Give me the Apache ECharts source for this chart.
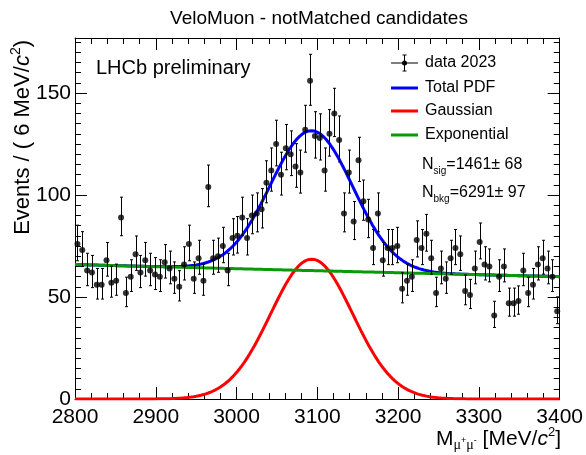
<!DOCTYPE html>
<html><head><meta charset="utf-8">
<script src="https://cdn.jsdelivr.net/npm/echarts@6/dist/echarts.min.js"></script>
<style>html,body{margin:0;padding:0;background:#fff}#c{width:586px;height:455px}</style>
</head><body><div id="c"></div>
<script>
// ---- data (6 MeV bins from 2800 to 3400) ----
const binLow = 2800;
const binWidth = 6;
const counts = [
  76, 73, 63, 62, 56, 56, 68, 57, 58, 89,
  52, 60, 71, 62, 68, 63, 61, 60, 67, 64,
  59, 55, 66, 76, 59, 69, 58, 104, 69, 70,
  75, 63, 79, 80, 89, 79, 90, 91, 93, 106,
  112, 125, 110, 123, 120, 114, 111, 132, 156, 129,
  128, 112, 130, 140, 127, 91, 111, 87, 117, 97,
  88, 74, 91, 68, 74, 74, 75, 54, 58, 60,
  78, 74, 81, 69, 52, 64, 59, 69, 74, 71,
  53, 51, 64, 77, 66, 65, 41, 60, 65, 47,
  47, 48, 63, 52, 56, 66, 69, 64, 60, 43
];
const xTickLabels = [2800, 2900, 3000, 3100, 3200, 3300, 3400];
const yTickLabels = [0, 50, 100, 150];
// fit result shown on the plot
const nSig = 1461, nSigErr = 68;
const nBkg = 6291, nBkgErr = 97;
const gaussMean = 3093, gaussSigma = 51;
const expSlope = -1.57e-4;
const legendNames = ['data 2023', 'Total PDF', 'Gaussian', 'Exponential'];
const titleText = 'VeloMuon - notMatched candidates';

// ---- build series ----
const xMin = xTickLabels[0], xMax = xTickLabels[xTickLabels.length - 1];
const dataPts = counts.map((n, i) => [binLow + binWidth * (i + 0.5), n]);
const errPts = counts.map((n, i) => {
  const s = Math.sqrt(n + 0.25);
  return [binLow + binWidth * (i + 0.5), n - (s - 0.5), n + (s + 0.5)];
});
function gaussAt(x) {
  return nSig * binWidth / (gaussSigma * Math.sqrt(2 * Math.PI)) *
    Math.exp(-0.5 * Math.pow((x - gaussMean) / gaussSigma, 2));
}
function expAt(x) {
  const norm = expSlope / (Math.exp(expSlope * (xMax - xMin)) - 1);
  return nBkg * binWidth * norm * Math.exp(expSlope * (x - xMin));
}
const gaussCurve = [], expCurve = [], totalCurve = [];
for (let x = xMin; x <= xMax; x += 1) {
  gaussCurve.push([x, gaussAt(x)]);
  expCurve.push([x, expAt(x)]);
  totalCurve.push([x, gaussAt(x) + expAt(x)]);
}

const FONT = 'Liberation Sans, Arial, Helvetica, sans-serif';
const chart = echarts.init(document.getElementById('c'), null, {renderer: 'canvas'});

const axisCommon = {
  axisLine: {show: true, onZero: false, lineStyle: {color: '#000', width: 1}},
  axisTick: {show: true, inside: true, length: 12, lineStyle: {color: '#000', width: 1}},
  splitLine: {show: false},
  minorSplitLine: {show: false}
};

const richBase = (fs) => ({
  a: {fontSize: fs, lineHeight: fs + 6, fontFamily: FONT, color: '#000', verticalAlign: 'middle'},
  i: {fontSize: fs, lineHeight: fs + 6, fontFamily: FONT, color: '#000', fontStyle: 'italic', verticalAlign: 'middle'},
  s: {fontSize: Math.round(fs * 0.62), lineHeight: Math.round(fs * 0.62), fontFamily: FONT, color: '#000', verticalAlign: 'bottom'},
  m: {fontSize: Math.round(fs * 0.66), lineHeight: Math.round(fs * 0.66), fontFamily: 'Liberation Serif, serif', color: '#000', verticalAlign: 'bottom'},
  p: {fontSize: Math.round(fs * 0.45), lineHeight: Math.round(fs * 0.45), fontFamily: FONT, color: '#000', verticalAlign: 'bottom', padding: [0, 0, Math.round(fs * 0.33), 0]},
  u: {fontSize: Math.round(fs * 0.62), lineHeight: Math.round(fs * 0.62), fontFamily: FONT, color: '#000', verticalAlign: 'top'}
});

const lgX = 391, lgTextX = 425, lgRows = [63, 88, 111, 135];
const graphics = [
  {type: 'text', x: 319, y: 19, style: {text: titleText, font: '19px ' + FONT, fill: '#000', align: 'center', verticalAlign: 'middle'}, z: 10},
  {type: 'text', x: 96, y: 68, style: {text: 'LHCb preliminary', font: '20px ' + FONT, fill: '#000', verticalAlign: 'middle'}, z: 10},
  // y axis title
  {type: 'text', x: 23, y: 40, rotation: Math.PI / 2,
   style: {text: '{a|Events / ( 6 MeV/}{i|c}{u|2}{a|)}', align: 'right', verticalAlign: 'middle', rich: richBase(22)}, z: 10},
  // x axis title
  {type: 'text', x: 561, y: 439,
   style: {text: '{a|M}{m|μ}{p|+}{m|μ}{p|-}{a| [MeV/}{i|c}{u|2}{a|]}', align: 'right', verticalAlign: 'middle', rich: richBase(21)}, z: 10},
  // legend: data
  {type: 'line', shape: {x1: lgX, y1: lgRows[0], x2: lgX + 27, y2: lgRows[0]}, style: {stroke: '#000', lineWidth: 1}, z: 10},
  {type: 'line', shape: {x1: lgX + 13.5, y1: lgRows[0] - 8, x2: lgX + 13.5, y2: lgRows[0] + 8}, style: {stroke: '#000', lineWidth: 1}, z: 10},
  {type: 'line', shape: {x1: lgX + 11.5, y1: lgRows[0] - 8, x2: lgX + 15.5, y2: lgRows[0] - 8}, style: {stroke: '#000', lineWidth: 1}, z: 10},
  {type: 'line', shape: {x1: lgX + 11.5, y1: lgRows[0] + 8, x2: lgX + 15.5, y2: lgRows[0] + 8}, style: {stroke: '#000', lineWidth: 1}, z: 10},
  {type: 'circle', shape: {cx: lgX + 13.5, cy: lgRows[0], r: 2.5}, style: {fill: '#000'}, z: 10},
  {type: 'line', shape: {x1: lgX, y1: lgRows[1], x2: lgX + 27, y2: lgRows[1]}, style: {stroke: '#0000ff', lineWidth: 3}, z: 10},
  {type: 'line', shape: {x1: lgX, y1: lgRows[2], x2: lgX + 27, y2: lgRows[2]}, style: {stroke: '#ff0000', lineWidth: 3}, z: 10},
  {type: 'line', shape: {x1: lgX, y1: lgRows[3], x2: lgX + 27, y2: lgRows[3]}, style: {stroke: '#0a990a', lineWidth: 3}, z: 10}
];
legendNames.forEach((nm, k) => {
  graphics.push({type: 'text', x: lgTextX, y: lgRows[k], style: {text: nm, font: '16px ' + FONT, fill: '#000', verticalAlign: 'middle'}, z: 10});
});
graphics.push({type: 'text', x: 422, y: 165, style: {text: '{a|N}{s|sig}{a|=' + nSig + '± ' + nSigErr + '}', verticalAlign: 'middle', rich: richBase(16)}, z: 10});
graphics.push({type: 'text', x: 422, y: 193, style: {text: '{a|N}{s|bkg}{a|=' + nBkg + '± ' + nBkgErr + '}', verticalAlign: 'middle', rich: richBase(16)}, z: 10});

const option = {
  animation: false,
  backgroundColor: '#fff',
  grid: {left: 75, right: 26, top: 38, bottom: 56, containLabel: false},
  xAxis: [
    {type: 'value', position: 'bottom', min: xMin, max: xMax, interval: 100,
      axisLabel: {show: true, color: '#000', fontSize: 21, fontFamily: FONT, margin: 8,
        formatter: v => xTickLabels.includes(v) ? String(v) : ''}},
    {type: 'value', position: 'top', min: xMin, max: xMax, interval: 100,
      axisLabel: {show: false}}
  ],
  yAxis: [
    {type: 'value', position: 'left', min: 0, max: 177, interval: 50,
      axisLabel: {show: true, color: '#000', fontSize: 21, fontFamily: FONT, margin: 4,
        formatter: v => yTickLabels.includes(v) ? String(v) : ''}},
    {type: 'value', position: 'right', min: 0, max: 177, interval: 50, axisLabel: {show: false}}
  ],
  graphic: graphics,
  series: [
    {name: 'Total PDF', type: 'line', data: totalCurve, showSymbol: false, symbol: 'none',
      lineStyle: {color: '#0000ff', width: 3}, z: 3, silent: true},
    {name: 'Gaussian', type: 'line', data: gaussCurve, showSymbol: false, symbol: 'none',
      lineStyle: {color: '#ff0000', width: 3}, z: 3, silent: true},
    {name: 'Exponential', type: 'line', data: expCurve, showSymbol: false, symbol: 'none',
      lineStyle: {color: '#0a990a', width: 3}, z: 4, silent: true},
    {name: 'data 2023 errors', type: 'custom', data: errPts, z: 5, silent: true,
      renderItem: function (params, api) {
        const x = api.value(0);
        const lo = api.coord([x, api.value(1)]);
        const hi = api.coord([x, api.value(2)]);
        const px = Math.round(lo[0]) + 0.5;
        return {type: 'group', children: [
          {type: 'line', shape: {x1: px, y1: lo[1], x2: px, y2: hi[1]}, style: {stroke: '#000', lineWidth: 1}},
          {type: 'line', shape: {x1: px - 1.5, y1: lo[1], x2: px + 1.5, y2: lo[1]}, style: {stroke: '#000', lineWidth: 1}},
          {type: 'line', shape: {x1: px - 1.5, y1: hi[1], x2: px + 1.5, y2: hi[1]}, style: {stroke: '#000', lineWidth: 1}}
        ]};
      }},
    {name: 'data 2023', type: 'scatter', data: dataPts, symbol: 'circle', symbolSize: 6,
      itemStyle: {color: '#000'}, z: 6, silent: true}
  ]
};
// apply common axis styling
option.xAxis.forEach(a => {
  a.axisLine = axisCommon.axisLine; a.axisTick = axisCommon.axisTick;
  a.minorTick = {show: true, splitNumber: 5, length: 6, lineStyle: {color: '#000', width: 1}};
  a.splitLine = axisCommon.splitLine; a.minorSplitLine = axisCommon.minorSplitLine;
});
option.yAxis.forEach(a => {
  a.axisLine = axisCommon.axisLine; a.axisTick = axisCommon.axisTick;
  a.minorTick = {show: true, splitNumber: 10, length: 6, lineStyle: {color: '#000', width: 1}};
  a.splitLine = axisCommon.splitLine; a.minorSplitLine = axisCommon.minorSplitLine;
});
chart.setOption(option);
</script>
</body></html>
